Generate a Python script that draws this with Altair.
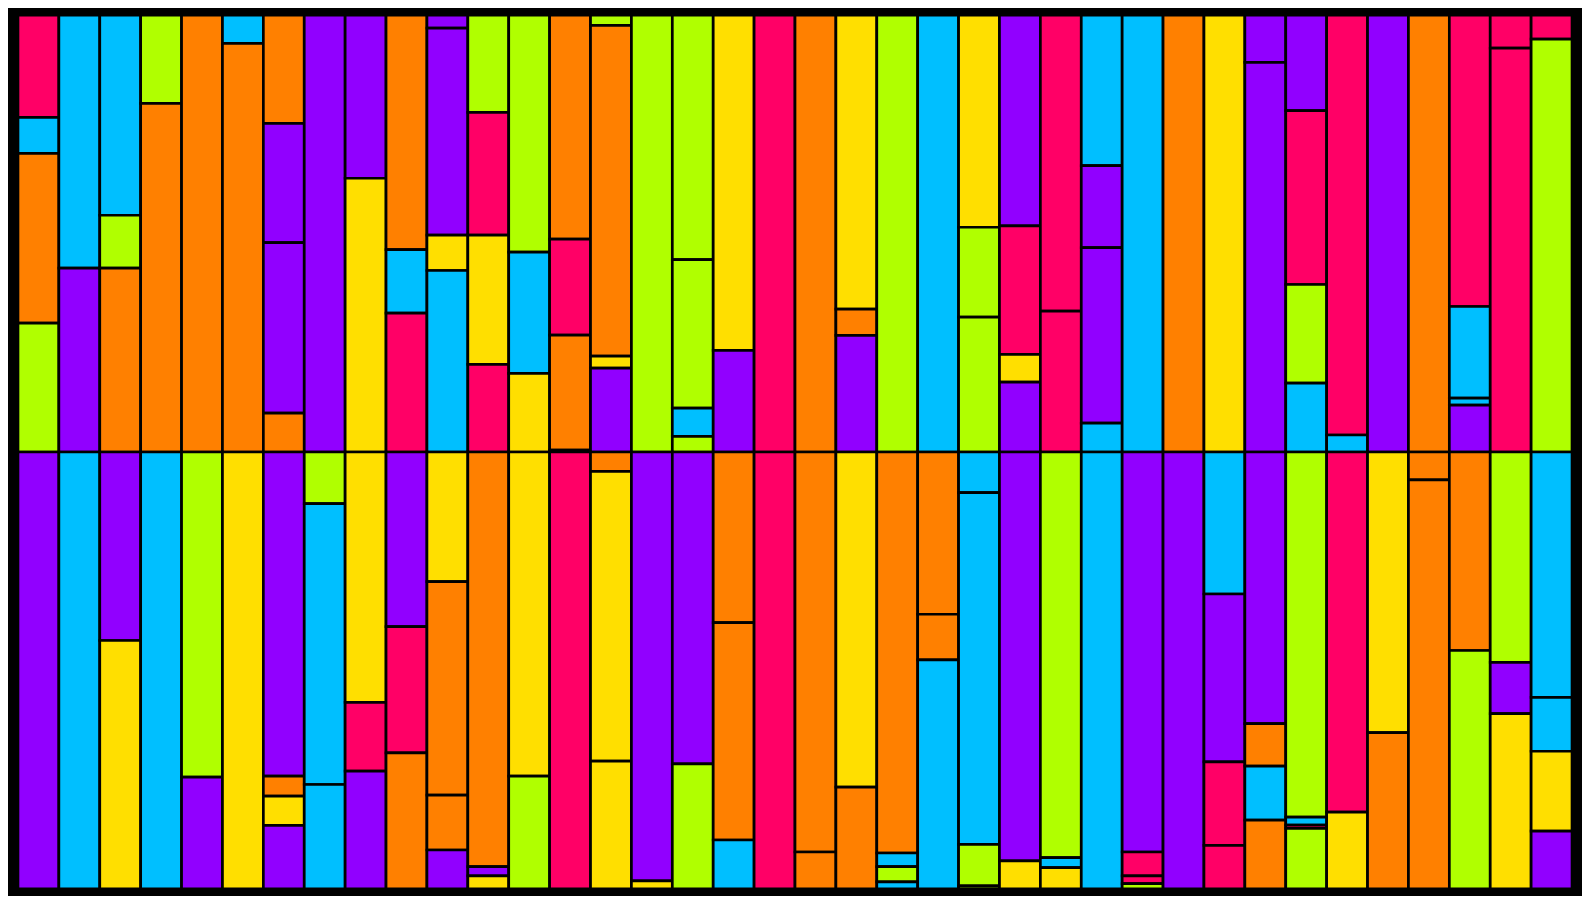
import altair as alt
import pandas as pd

# Palette (category key -> colour)
COLOR_KEYS = ["M", "C", "O", "L", "P", "Y"]
COLOR_HEX = ["#FF0066", "#00BFFF", "#FF8000", "#B0FF00", "#9100FF", "#FFDF00"]

# Upper row: segments of every column, listed top -> bottom
top_colors = [
    ["M", "C", "O", "L"], ["C", "P"], ["C", "L", "O"], ["L", "O"], ["O"],
    ["C", "O"], ["O", "P", "P", "O"], ["P"], ["P", "Y"], ["O", "C", "M"],
    ["P", "P", "Y", "C"], ["L", "M", "Y", "M"], ["L", "C", "Y"], ["O", "M", "O", "P"],
    ["L", "O", "Y", "P"], ["L"], ["L", "L", "C", "L"], ["Y", "P"], ["M"], ["O"],
    ["Y", "O", "P"], ["L"], ["C"], ["Y", "L", "L"], ["P", "M", "Y", "P"],
    ["M", "M"], ["C", "P", "P", "C"], ["C"], ["O"], ["Y"], ["P", "P"],
    ["P", "M", "L", "C"], ["M", "C"], ["P"], ["O"], ["M", "C", "C", "P"],
    ["M", "M"], ["M", "L"],
]
top_values = [
    [307, 108, 510, 387], [760, 552], [601, 159, 552], [265, 1047], [1312],
    [85, 1227], [325, 358, 512, 117], [1312], [490, 822], [704, 191, 417],
    [39, 622, 106, 545], [292, 369, 388, 263], [712, 364, 236], [673, 288, 345, 6],
    [31, 993, 36, 252], [1312], [734, 446, 85, 47], [1007, 305], [1312], [1312],
    [883, 79, 350], [1312], [1312], [637, 270, 405], [633, 386, 83, 210],
    [889, 423], [452, 246, 527, 87], [1312], [1312], [1312], [142, 1170],
    [287, 522, 296, 207], [1261, 51], [1312], [1312], [875, 275, 21, 141],
    [99, 1213], [72, 1240],
]

# Lower row: segments of every column, listed top -> bottom
bottom_colors = [
    ["P"], ["C"], ["P", "Y"], ["C"], ["L", "P"], ["Y"], ["P", "O", "Y", "P"],
    ["L", "C", "C"], ["Y", "M", "P"], ["P", "M", "O"], ["Y", "O", "O", "P"],
    ["O", "P", "Y"], ["Y", "L"], ["M"], ["O", "Y", "Y"], ["P", "Y"], ["P", "L"],
    ["O", "O", "C"], ["M"], ["O", "O"], ["Y", "O"], ["O", "C", "L", "C"],
    ["O", "O", "C"], ["C", "C", "L", "L"], ["P", "Y"], ["L", "C", "Y"], ["C"],
    ["P", "M", "M", "L"], ["P"], ["C", "P", "M", "M"], ["P", "O", "C", "O"],
    ["L", "C", "M", "L"], ["M", "Y"], ["Y", "O"], ["O", "O"], ["O", "L"],
    ["L", "P", "Y"], ["C", "C", "Y", "P"],
]
bottom_values = [
    [1314], [1314], [567, 747], [1314], [978, 336], [1314], [975, 60, 88, 191],
    [155, 845, 314], [753, 207, 354], [525, 380, 409], [390, 642, 165, 117],
    [1247, 28, 39], [975, 339], [1314], [58, 872, 384], [1290, 24], [938, 376],
    [513, 654, 147], [1314], [1203, 111], [1008, 306], [1206, 41, 46, 21],
    [488, 137, 689], [122, 1058, 125, 9], [1230, 84], [1220, 30, 64], [1314],
    [1203, 72, 23, 16], [1314], [427, 505, 251, 131], [817, 128, 162, 207],
    [1098, 24, 10, 182], [1083, 231], [844, 470], [84, 1230], [597, 717],
    [633, 154, 527], [738, 162, 240, 174],
]

records = []
for row_name, cols_c, cols_v in (("top", top_colors, top_values),
                                 ("bottom", bottom_colors, bottom_values)):
    for ci, (cs, vs) in enumerate(zip(cols_c, cols_v)):
        for si, (c, v) in enumerate(zip(cs, vs)):
            records.append({"row": row_name, "col": ci, "seg": si, "color": c, "value": v})
df = pd.DataFrame(records)

chart = (
    alt.Chart(df)
    .transform_stack(
        stack="value",
        groupby=["row", "col"],
        as_=["v0", "v1"],
        offset="normalize",
        sort=[alt.SortField("seg", order="descending")],
    )
    .transform_calculate(
        y0="datum.v0 + (datum.row == 'top' ? 1 : 0)",
        y1="datum.v1 + (datum.row == 'top' ? 1 : 0)",
    )
    .mark_bar(stroke="#000000", strokeWidth=2.7, opacity=1)
    .encode(
        x=alt.X("col:O", axis=None, scale=alt.Scale(paddingInner=0, paddingOuter=0)),
        y=alt.Y("y0:Q", axis=None, scale=alt.Scale(domain=[0, 2], nice=False, zero=False)),
        y2="y1:Q",
        color=alt.Color("color:N", scale=alt.Scale(domain=COLOR_KEYS, range=COLOR_HEX), legend=None),
    )
    .properties(
        width=1558,
        height=876,
        padding={"left": 8, "top": 4, "right": 8, "bottom": 4},
        background="#000000",
    )
    .configure_view(strokeWidth=0)
)

chart.save("out.html", embed_options={"renderer": "svg", "actions": False})
